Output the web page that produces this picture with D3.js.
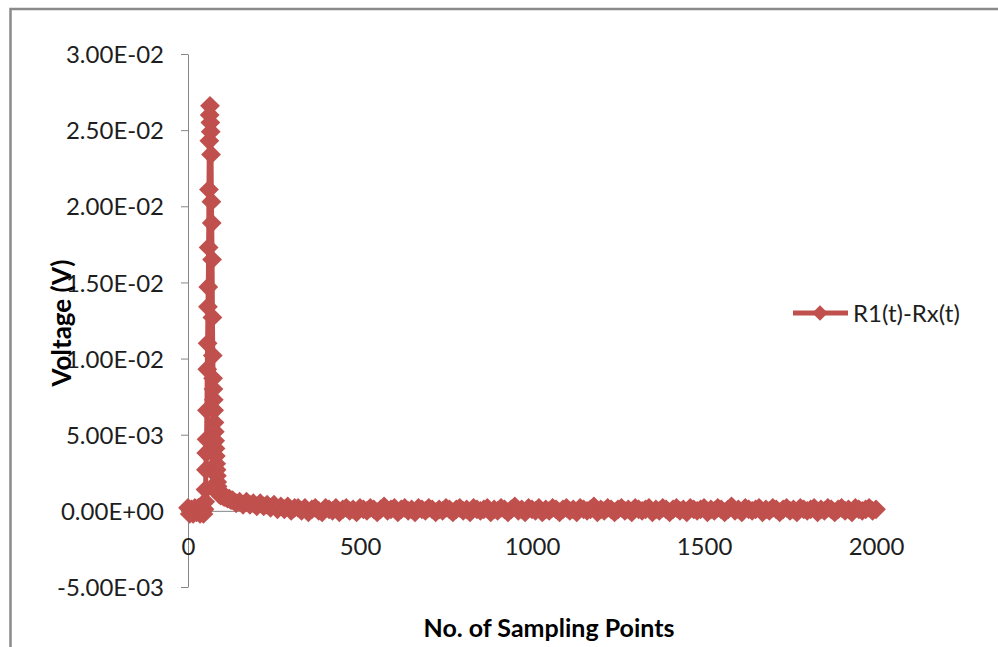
<!DOCTYPE html>
<html>
<head>
<meta charset="utf-8">
<script src="https://cdn.jsdelivr.net/npm/d3@7"></script>
<style>
	body { margin: 0; background: #fff; }
	text { font-family: Lato, "Open Sans", sans-serif; fill: #1e1e1e; }
</style>
</head>
<body>
<div id="chart"></div>
<script>
// Sampling index / voltage pairs in three stretches
const startX = [0, 5, 10, 15, 20, 25, 30, 35, 40, 45, 48];
const startY = [0.0002, -0.0002, 0.0001, -0.0002, 0.0002, -0.0001, 0.0002, -0.0002, 0.0001, -0.0002, 0.0001];

const peakX = [50, 51, 52, 53, 54, 55, 56, 57, 58, 59, 60, 61, 62, 63, 64,
	65, 66, 67, 68, 69, 70, 71, 72, 73, 74, 75, 76, 77, 78, 79, 80, 81, 82, 83, 84, 85, 86, 87, 88,
	90, 95, 100, 105, 110, 115, 120, 125];
const peakY = [0.0006, 0.0014, 0.0027, 0.0038, 0.0047, 0.0066, 0.0093, 0.0110, 0.0134, 0.0147, 0.0173, 0.0211, 0.0243, 0.0260, 0.0266,
	0.0255, 0.0249, 0.0234, 0.0203, 0.0189, 0.0165, 0.0127, 0.0102, 0.0087, 0.0080, 0.0073, 0.0066,
	0.0058, 0.0052, 0.0046, 0.0041, 0.0036, 0.0031, 0.0027, 0.0023, 0.0019, 0.0016, 0.0014, 0.0012,
	0.0011, 0.0010, 0.0010, 0.0009, 0.0009, 0.0008, 0.0008, 0.0007];

const tailX = [
	130, 140, 150, 160, 170, 180, 190, 200, 210, 220, 230, 240, 250, 260, 270, 280, 290, 300, 310,
	320, 330, 340, 350, 360, 370, 380, 390, 400, 410, 420, 430, 440, 450, 460, 470, 480, 490, 500,
	510, 520, 530, 540, 550, 560, 570, 580, 590, 600, 610, 620, 630, 640, 650, 660, 670, 680, 690,
	700, 710, 720, 730, 740, 750, 760, 770, 780, 790, 800, 810, 820, 830, 840, 850, 860, 870, 880,
	890, 900, 910, 920, 930, 940, 950, 960, 970, 980, 990, 1000, 1010, 1020, 1030, 1040, 1050, 1060, 1070,
	1080, 1090, 1100, 1110, 1120, 1130, 1140, 1150, 1160, 1170, 1180, 1190, 1200, 1210, 1220, 1230, 1240, 1250, 1260,
	1270, 1280, 1290, 1300, 1310, 1320, 1330, 1340, 1350, 1360, 1370, 1380, 1390, 1400, 1410, 1420, 1430, 1440, 1450,
	1460, 1470, 1480, 1490, 1500, 1510, 1520, 1530, 1540, 1550, 1560, 1570, 1580, 1590, 1600, 1610, 1620, 1630, 1640,
	1650, 1660, 1670, 1680, 1690, 1700, 1710, 1720, 1730, 1740, 1750, 1760, 1770, 1780, 1790, 1800, 1810, 1820, 1830,
	1840, 1850, 1860, 1870, 1880, 1890, 1900, 1910, 1920, 1930, 1940, 1950, 1960, 1970, 1980, 1990, 2000];
const tailY = [
	0.0007, 0.0005, 0.0006, 0.0004, 0.0006, 0.0004, 0.0005, 0.0003, 0.0005, 0.0003, 0.0004, 0.0002, 0.0004, 0.0001, 0.0003, 0.0001, 0.0003, 0.0000, 0.0002,
	0.0002, 0.0000, 0.0002, -0.0001, 0.0001, 0.0002, 0.0000, -0.0001, 0.0002, 0.0001, 0.0000, 0.0002, -0.0001, 0.0001, 0.0002, 0.0000, 0.0001, -0.0001, 0.0002,
	0.0001, 0.0000, 0.0002, 0.0001, -0.0001, 0.0001, 0.0003, 0.0000, 0.0001, 0.0002, -0.0001, 0.0001, 0.0002, 0.0000, 0.0001, -0.0001, 0.0002, 0.0001, 0.0000,
	0.0002, 0.0001, -0.0001, 0.0001, 0.0000, 0.0002, 0.0001, -0.0001, 0.0001, 0.0002, 0.0000, 0.0001, -0.0001, 0.0002, 0.0001, 0.0000, 0.0001, 0.0002, -0.0001,
	0.0001, 0.0000, 0.0002, 0.0001, -0.0001, 0.0001, 0.0003, 0.0000, 0.0001, -0.0001, 0.0002, 0.0001, 0.0000, 0.0002, -0.0001, 0.0001, 0.0000, 0.0002, 0.0001,
	-0.0001, 0.0001, 0.0002, 0.0000, 0.0001, -0.0001, 0.0002, 0.0001, 0.0000, 0.0001, 0.0003, -0.0001, 0.0001, 0.0000, 0.0002, 0.0001, -0.0001, 0.0001, 0.0002,
	0.0000, 0.0001, -0.0001, 0.0002, 0.0001, 0.0000, 0.0001, 0.0002, -0.0001, 0.0001, 0.0000, 0.0002, 0.0001, -0.0001, 0.0001, 0.0002, 0.0000, 0.0001, -0.0001,
	0.0002, 0.0001, 0.0000, 0.0001, 0.0002, -0.0001, 0.0001, 0.0000, 0.0002, 0.0001, -0.0001, 0.0001, 0.0003, 0.0000, 0.0001, -0.0001, 0.0002, 0.0001, 0.0000,
	0.0001, 0.0002, -0.0001, 0.0001, 0.0000, 0.0002, 0.0001, -0.0001, 0.0001, 0.0002, 0.0000, 0.0001, -0.0001, 0.0002, 0.0001, 0.0000, 0.0001, 0.0002, -0.0001,
	0.0001, 0.0000, 0.0002, 0.0001, -0.0001, 0.0001, 0.0002, 0.0000, 0.0001, -0.0001, 0.0002, 0.0001, 0.0000, 0.0001, 0.0002, 0.0000, 0.0001];

const xTicks = [0, 500, 1000, 1500, 2000];
const yTicks = [-0.005, 0, 0.005, 0.01, 0.015, 0.02, 0.025, 0.03];
const seriesName = "R1(t)-Rx(t)";
const xTitle = "No. of Sampling Points";
const yTitle = "Voltage (V)";

const width = 998, height = 647;
const color = "#c0504d";
const axisColor = "#868686";

const allX = [...startX, ...peakX, ...tailX];
const allY = [...startY, ...peakY, ...tailY];
const points = allX.map((x, i) => ({ x: x, y: allY[i] }));

const svg = d3.select("#chart")
	.append("svg")
		.attr("width", width).attr("height", height);

// Chart frame
svg.append("rect")
	.attr("x", 10.5).attr("y", 9)
	.attr("width", width + 10).attr("height", height + 10)
	.attr("fill", "none").attr("stroke", "#8a8a8a").attr("stroke-width", 2.5);

const xScale = d3.scaleLinear().domain([0, 2000]).range([188, 876]);
const yScale = d3.scaleLinear().domain([-0.005, 0.03]).range([587, 54]);

// Excel style scientific labels, e.g. 2.50E-02
const sci = v => v.toExponential(2).toUpperCase().replace(/E([+-])(\d)$/, "E$10$2");

const yAxis = svg.append("g")
	.attr("transform", `translate(${xScale(0)}, 0)`)
	.call(d3.axisLeft(yScale).tickValues(yTicks).tickFormat(sci).tickSize(7).tickSizeOuter(0).tickPadding(17));
yAxis.selectAll("text").style("font-size", "24px").attr("dy", "0.36em");

const xAxis = svg.append("g")
	.attr("transform", `translate(0, ${yScale(0)})`)
	.call(d3.axisBottom(xScale).tickValues(xTicks).tickFormat(d3.format("d")).tickSize(7).tickSizeOuter(0).tickPadding(20));
xAxis.selectAll("text").style("font-size", "24px");

svg.selectAll(".domain, .tick line").attr("stroke", axisColor).attr("stroke-width", 1);

// Series: thick line plus diamond markers
const line = d3.line().x(d => xScale(d.x)).y(d => yScale(d.y));
svg.append("path")
	.datum(points)
	.attr("d", line)
	.attr("fill", "none").attr("stroke", color).attr("stroke-width", 5).attr("stroke-linejoin", "round");

const diamond = d3.symbol().type(d3.symbolSquare).size(196);
svg.append("g").selectAll("path")
	.data(points)
	.enter()
	.append("path")
		.attr("d", diamond)
		.attr("transform", d => `translate(${xScale(d.x)}, ${yScale(d.y)}) rotate(45)`)
		.attr("fill", color);

// Axis titles
svg.append("text")
	.attr("x", 549).attr("y", 637)
	.style("text-anchor", "middle").style("font-size", "25px").style("font-weight", "bold").style("fill", "#000")
	.text(xTitle);
svg.append("text")
	.attr("transform", `translate(71, 323) rotate(-90)`)
	.style("text-anchor", "middle").style("font-size", "26px").style("font-weight", "bold").style("fill", "#000")
	.text(yTitle);

// Legend
const legend = svg.append("g").attr("transform", "translate(793, 313)");
legend.append("line").attr("x1", 0).attr("x2", 55).attr("stroke", color).attr("stroke-width", 5);
legend.append("path").attr("d", d3.symbol().type(d3.symbolSquare).size(120)).attr("transform", "translate(27, 0) rotate(45)").attr("fill", color);
legend.append("text")
	.attr("x", 60).attr("dy", "0.36em")
	.style("font-size", "24px")
	.text(seriesName);
</script>
</body>
</html>
